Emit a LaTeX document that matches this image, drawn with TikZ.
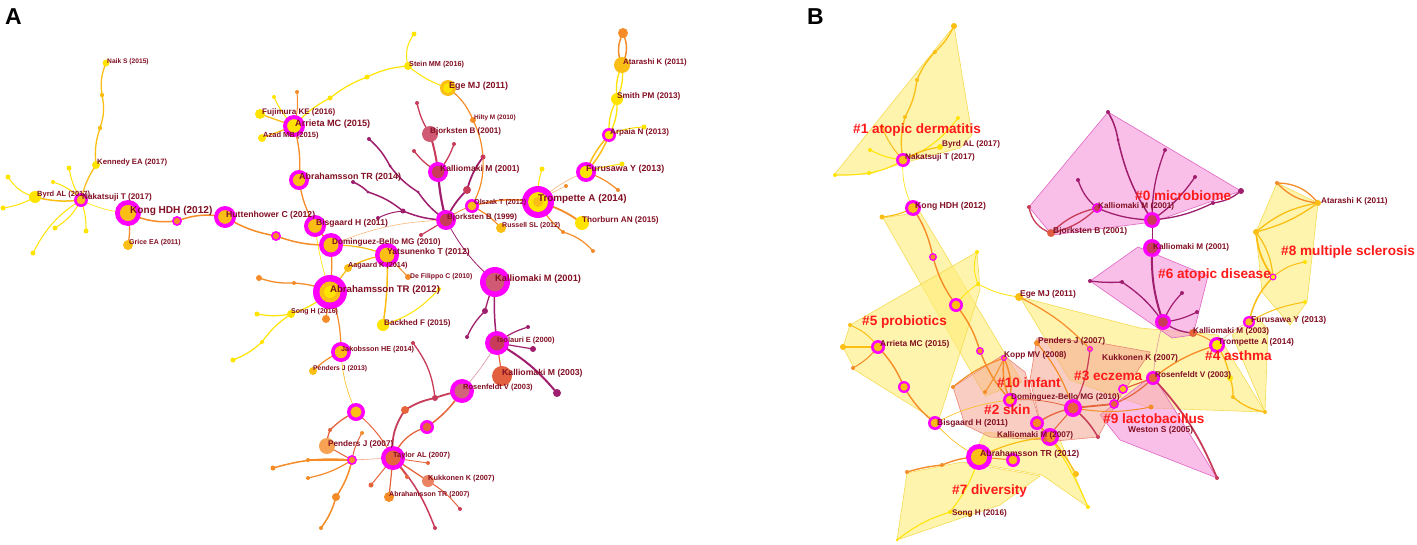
\documentclass[tikz,border=0pt]{standalone}
\usepackage{fontspec}
\setmainfont{Liberation Sans}
\definecolor{lbl}{RGB}{130,15,35}
\definecolor{clr}{RGB}{255,25,25}
\definecolor{mag}{RGB}{255,0,255}
\definecolor{cy}{RGB}{255,228,0}
\definecolor{cg}{RGB}{250,190,20}
\definecolor{co}{RGB}{245,140,40}
\definecolor{cr}{RGB}{230,100,60}
\definecolor{cc}{RGB}{200,60,90}
\definecolor{cp}{RGB}{160,30,110}
\definecolor{pyf}{RGB}{255,238,120}
\definecolor{pyd}{RGB}{245,220,80}
\definecolor{ppf}{RGB}{245,140,215}
\definecolor{ppd}{RGB}{225,100,195}
\definecolor{psf}{RGB}{245,165,145}
\definecolor{psd}{RGB}{235,135,115}
\newcommand\rn[3]{\fill[mag] (#1) circle[radius=#2pt]; \fill[#3] (#1) circle[radius={0.62*#2pt}];}
\newcommand\pn[3]{\fill[#3] (#1) circle[radius=#2pt];}
\tikzset{
  lab/.style={font={\pgfmathsetmacro\myfs{1.17*#1}\bfseries\fontsize{\myfs}{\myfs}\selectfont}, text=lbl, anchor=west, inner sep=0pt},
  clab/.style={font=\bfseries\fontsize{13.6}{13.6}\selectfont, text=clr, anchor=west, inner sep=0pt},
  panel/.style={font=\bfseries\fontsize{23}{23}\selectfont, text=black, anchor=west, inner sep=0pt},
  e/.style={line cap=round},
  ey/.style={e,draw=cy}, eg/.style={e,draw=cg}, eo/.style={e,draw=co},
  er/.style={e,draw=cr}, ec/.style={e,draw=cc}, ep/.style={e,draw=cp},
  eol/.style={e,draw=co!60}, erl/.style={e,draw=cr!60}, ecl/.style={e,draw=cc!55},
  py/.style={fill=pyf, fill opacity=0.6, draw=pyd, line width=0.6pt},
  pp/.style={fill=ppf, fill opacity=0.55, draw=ppd, line width=0.6pt},
  ps/.style={fill=psf, fill opacity=0.55, draw=psd, line width=0.6pt}
}
\begin{document}
\begin{tikzpicture}[x=1pt,y=-1pt]
\useasboundingbox (0,0) rectangle (1417,544);
\fill[white] (0,0) rectangle (1417,544);
%% ================= PANEL A coordinates
\coordinate (naik) at (106,63); \coordinate (a1) at (102,95); \coordinate (a2) at (100,128);
\coordinate (kennedy) at (96,165); \coordinate (naka) at (81,200); \coordinate (byrd) at (35,197);
\coordinate (byrdl1) at (8,177); \coordinate (byrdl2) at (3,208);
\coordinate (nl1) at (53,182); \coordinate (nl2) at (69,168); \coordinate (nl3) at (55,228);
\coordinate (nl4) at (33,253); \coordinate (nl5) at (86,231);
\coordinate (kong) at (128,213); \coordinate (grice) at (128,245); \coordinate (m1) at (177,221);
\coordinate (hutt) at (225,217); \coordinate (m2) at (276,236); \coordinate (bisg) at (315,226);
\coordinate (domb) at (331,245); \coordinate (abr14) at (299,180); \coordinate (arri) at (294,126);
\coordinate (fuji) at (260,114); \coordinate (azad) at (262,138); \coordinate (arl1) at (274,97);
\coordinate (arl2) at (297,92); \coordinate (y1) at (330,98); \coordinate (y2) at (367,77);
\coordinate (stein) at (408,66); \coordinate (steinl) at (414,34); \coordinate (ege) at (448,88);
\coordinate (hilty) at (473,120); \coordinate (h2) at (483,157); \coordinate (olsz) at (472,206);
\coordinate (bj01) at (430,134); \coordinate (bjl1) at (417,103); \coordinate (bjl2) at (454,144);
\coordinate (bjl3) at (414,151); \coordinate (ka01a) at (438,172); \coordinate (bj99) at (446,220);
\coordinate (c1) at (467,190); \coordinate (p1) at (369,139); \coordinate (p2) at (390,166);
\coordinate (p2b) at (418,192); \coordinate (p3) at (403,211); \coordinate (p4) at (353,182);
\coordinate (p5) at (368,192); \coordinate (p6) at (421,235); \coordinate (p7) at (378,218);
\coordinate (trom) at (538,202); \coordinate (furu) at (586,172); \coordinate (arpa) at (609,135);
\coordinate (smith) at (617,99); \coordinate (atar) at (622,65); \coordinate (attop) at (623,33);
\coordinate (thor) at (582,223); \coordinate (russ) at (501,228);
\coordinate (tl1) at (542,169); \coordinate (tl2) at (563,232); \coordinate (tl3) at (593,251);
\coordinate (tl4) at (618,190); \coordinate (tl5) at (622,164); \coordinate (tl6) at (644,127);
\coordinate (tl7) at (566,186);
\coordinate (yats) at (387,255); \coordinate (aag) at (348,268); \coordinate (defil) at (408,277);
\coordinate (ka01b) at (495,282); \coordinate (abr12) at (330,292); \coordinate (song) at (291,314);
\coordinate (sl1) at (257,314); \coordinate (sl2) at (262,342); \coordinate (sl3) at (233,360);
\coordinate (ol1) at (259,278); \coordinate (ol2) at (294,283); \coordinate (ol3) at (326,319);
\coordinate (back) at (383,325); \coordinate (bl) at (439,289);
\coordinate (jak) at (341,352); \coordinate (pen13) at (313,371); \coordinate (m3) at (356,412);
\coordinate (pen07) at (327,446); \coordinate (m4) at (352,460); \coordinate (tay) at (393,458);
\coordinate (kuk) at (428,481); \coordinate (abr07) at (389,497); \coordinate (m5) at (427,427);
\coordinate (ros) at (462,391); \coordinate (iso) at (497,343); \coordinate (ka03) at (502,376);
\coordinate (pnd) at (557,393); \coordinate (il1) at (528,327); \coordinate (il2) at (533,349);
\coordinate (kb1) at (485,311); \coordinate (kb2) at (467,337);
\coordinate (rl1) at (435,398); \coordinate (rl2) at (413,343); \coordinate (rl3) at (405,410);
\coordinate (tla) at (273,468); \coordinate (tlb) at (308,460); \coordinate (tlc) at (308,478);
\coordinate (tld) at (336,497); \coordinate (tle) at (321,528); \coordinate (tlf) at (330,430);
\coordinate (tlg) at (362,433); \coordinate (tlh) at (371,485); \coordinate (tli) at (435,528);
\coordinate (tlj) at (460,509); \coordinate (tlk) at (428,463); \coordinate (tll) at (407,477);
%% ================= PANEL A edges
\draw[eg,line width=1.3pt] (naik) to[bend right=15] (a1) to[bend left=15] (a2) to[bend right=12] (kennedy) to[bend right=10] (naka);
\draw[eg,line width=1.5pt] (naka) to[bend left=10] (byrd);
\draw[ey,line width=1pt] (byrd) to[bend left=20] (byrdl1);
\draw[ey,line width=1pt] (byrd) to[bend left=10] (byrdl2);
\draw[ey,line width=1pt] (naka) to[bend right=15] (nl1);
\draw[ey,line width=1pt] (naka) to[bend left=10] (nl2);
\draw[ey,line width=1pt] (naka) to[bend left=15] (nl3);
\draw[ey,line width=1pt] (naka) to[bend right=15] (nl4);
\draw[ey,line width=1pt] (naka) to[bend left=10] (nl5);
\draw[ey,line width=0.6pt] (naka) to[bend right=10] (kong);
\draw[eo,line width=1.3pt] (kong) to[bend left=10] (grice);
\draw[eo,line width=1.5pt] (kong) to[bend right=15] (m1) to[bend left=15] (hutt) to[bend right=10] (m2) to[bend right=10] (domb);
\draw[eg,line width=1.3pt] (arri) -- (fuji);
\draw[eg,line width=1.3pt] (arri) -- (azad);
\draw[ey,line width=1pt] (arri) to[bend left=10] (arl1);
\draw[eo,line width=1pt] (arri) to[bend right=10] (arl2);
\draw[ey,line width=1.2pt] (arri) to[bend left=10] (y1) to[bend left=8] (y2) to[bend left=10] (stein);
\draw[ey,line width=1pt] (stein) to[bend left=25] (steinl);
\draw[ey,line width=1pt] (stein) to[bend right=10] (ege);
\draw[eo,line width=1.2pt] (ege) to[bend left=15] (hilty) to[bend left=10] (h2) to[bend left=15] (olsz);
\draw[eo,line width=1.3pt] (arri) to[bend left=10] (abr14) to[bend right=10] (bisg);
\draw[eo,line width=1.5pt] (bisg) -- (domb);
\draw[ey,line width=0.6pt] (bisg) to[bend right=5] (abr12);
\draw[eo,line width=1.2pt] (domb) to[bend left=5] (abr12);
\draw[ep,line width=1.5pt] (p4) to[bend left=10] (p5) to[bend left=10] (p3) to[bend right=10] (bj99);
\draw[ep,line width=1.5pt] (p1) to[bend left=10] (p2) to[bend right=10] (p2b) to[bend right=10] (bj99);
\draw[ep,line width=1pt] (p7) to[bend left=10] (p3);
\draw[ec,line width=2pt] (bj01) to[bend left=5] (ka01a);
\draw[ec,line width=1.3pt] (bj01) to[bend left=10] (bjl1);
\draw[ec,line width=1.3pt] (ka01a) to[bend right=10] (bjl2);
\draw[ec,line width=1.3pt] (ka01a) to[bend left=10] (bjl3);
\draw[ep,line width=2.2pt] (ka01a) to[bend right=5] (bj99);
\draw[ep,line width=1.8pt] (bj99) to[bend left=10] (c1) to[bend left=10] (h2);
\draw[eo,line width=0.8pt] (bj99) to[bend left=10] (olsz);
\draw[eo,line width=1.5pt] (olsz) to[bend left=12] (trom);
\draw[eo,line width=1.2pt] (olsz) to[bend left=10] (russ);
\draw[eo,line width=1.8pt] (trom) to[bend left=10] (thor);
\draw[ey,line width=1pt] (trom) to[bend left=10] (tl1);
\draw[eo,line width=1.2pt] (trom) to[bend right=10] (tl2) to[bend left=15] (tl3);
\draw[eol,line width=0.6pt] (trom) to[bend left=5] (tl7);
\draw[eol,line width=0.6pt] (trom) to[bend left=10] (furu);
\draw[eo,line width=1.2pt] (furu) to[bend left=10] (tl4);
\draw[ey,line width=1pt] (furu) to[bend left=5] (tl5);
\draw[eg,line width=1.5pt] (furu) to[bend left=10] (arpa);
\draw[eg,line width=1.5pt] (furu) to[bend right=10] (arpa);
\draw[ey,line width=1pt] (arpa) to[bend left=10] (tl6);
\draw[ey,line width=1.3pt] (arpa) to[bend left=15] (smith);
\draw[ey,line width=1.3pt] (arpa) to[bend right=15] (smith);
\draw[ey,line width=1.3pt] (smith) to[bend left=15] (atar);
\draw[ey,line width=1.3pt] (smith) to[bend right=15] (atar);
\draw[eo,line width=1.5pt] (atar) to[bend left=25] (attop);
\draw[eo,line width=1.5pt] (atar) to[bend right=25] (attop);
\draw[ep,line width=0.8pt] (bj99) to[bend right=10] (ka01b);
\draw[eol,line width=0.6pt] (bj99) to[bend right=10] (domb);
\draw[ec,line width=1.2pt] (bj99) -- (p6);
\draw[eg,line width=1.3pt] (yats) to[bend right=10] (aag);
\draw[eo,line width=1pt] (yats) -- (defil);
\draw[eg,line width=1.2pt] (yats) to[bend right=10] (domb);
\draw[eg,line width=1.3pt] (abr12) -- (aag);
\draw[eg,line width=1.5pt] (yats) to[bend left=5] (back);
\draw[ey,line width=1pt] (back) to[bend right=15] (bl);
\draw[eo,line width=1.3pt] (abr12) to[bend right=10] (ol2) to[bend left=10] (ol1);
\draw[eo,line width=1pt] (abr12) -- (ol3);
\draw[ey,line width=1.3pt] (abr12) to[bend left=10] (song);
\draw[ey,line width=1.2pt] (song) to[bend left=10] (sl1);
\draw[ey,line width=1.2pt] (song) to[bend right=10] (sl2) to[bend left=10] (sl3);
\draw[eo,line width=1.2pt] (abr12) to[bend left=10] (jak);
\draw[eo,line width=1.2pt] (jak) to[bend right=10] (pen13);
\draw[eg,line width=0.6pt] (jak) to[bend right=10] (m3);
\draw[er,line width=1.3pt] (m3) to[bend right=10] (tlf) to[bend right=10] (pen07);
\draw[er,line width=1pt] (m3) to[bend left=10] (tay);
\draw[eo,line width=1.5pt] (m4) to[bend right=10] (tla);
\draw[eo,line width=1.2pt] (m4) -- (tlb);
\draw[eo,line width=1.2pt] (m4) to[bend left=10] (tlc);
\draw[eo,line width=1.5pt] (m4) to[bend left=10] (tld) to[bend left=10] (tle);
\draw[er,line width=1pt] (pen07) -- (m4);
\draw[erl,line width=0.6pt] (m4) -- (tay);
\draw[er,line width=1pt] (m4) to[bend left=10] (tlg);
\draw[er,line width=1.3pt] (tay) to[bend left=25] (m5);
\draw[er,line width=1.5pt] (m5) to[bend right=10] (ros);
\draw[er,line width=1.3pt] (tay) -- (kuk);
\draw[er,line width=1.2pt] (tay) -- (abr07);
\draw[er,line width=1pt] (tay) -- (tlh);
\draw[ec,line width=1.5pt] (tay) to[bend left=10] (tli);
\draw[er,line width=1pt] (kuk) to[bend left=10] (tlj);
\draw[er,line width=0.8pt] (tay) -- (tlk);
\draw[er,line width=0.8pt] (tay) -- (tll);
\draw[ec,line width=1.8pt] (tay) to[bend left=20] (rl3) to[bend left=10] (rl1) to[bend left=5] (ros);
\draw[ec,line width=1.3pt] (rl1) to[bend right=15] (rl2);
\draw[ecl,line width=0.6pt] (ros) to[bend right=5] (iso);
\draw[ep,line width=1.5pt] (iso) to[bend left=5] (ka01b);
\draw[er,line width=1.2pt] (iso) -- (ka03);
\draw[ep,line width=1.2pt] (iso) to[bend left=10] (il1);
\draw[ep,line width=1.2pt] (iso) -- (il2);
\draw[ep,line width=2pt] (iso) to[bend left=10] (pnd);
\draw[ep,line width=1.3pt] (ka01b) to[bend right=5] (kb1) to[bend right=10] (kb2);
%% ================= PANEL A nodes
\pn{naik}{3.5}{cy} \pn{a1}{2.2}{cg} \pn{a2}{2.2}{cg} \pn{kennedy}{4}{cy}
\pn{byrd}{6}{cy} \pn{byrdl1}{2.5}{cy} \pn{byrdl2}{2.5}{cy}
\pn{nl1}{2}{cy} \pn{nl2}{2.5}{cy} \pn{nl3}{2.5}{cy} \pn{nl4}{2.5}{cy} \pn{nl5}{2.5}{cy}
\rn{naka}{7}{cg}
\rn{kong}{13}{cg} \pn{grice}{5}{cg} \rn{m1}{5}{co} \rn{hutt}{11}{cg} \rn{m2}{5}{co}
\rn{bisg}{11}{cg} \rn{domb}{12}{cg} \rn{abr14}{10}{cg} \rn{arri}{11}{cy}
\pn{fuji}{5}{cy} \pn{azad}{4}{cy} \pn{arl1}{2}{cy} \pn{arl2}{2}{co}
\pn{y1}{2.5}{cy} \pn{y2}{2.5}{cy} \pn{stein}{4}{cy} \pn{steinl}{2.5}{cy}
\pn{ege}{8}{cg} \fill[cy] (ege) circle[radius=5pt];
\pn{hilty}{3}{co} \pn{h2}{2.5}{cc}
\pn{bj01}{8}{cc!85!white} \pn{bjl1}{2}{cc} \pn{bjl2}{2}{cc} \pn{bjl3}{2}{cc}
\rn{ka01a}{10}{cc} \rn{bj99}{10}{cc} \pn{c1}{4}{cc}
\pn{p1}{2}{cp} \pn{p2}{1.5}{cp} \pn{p2b}{1.5}{cp} \pn{p3}{2.5}{cp} \pn{p4}{2}{cp} \pn{p5}{1.5}{cp} \pn{p6}{2}{cc} \pn{p7}{2}{cp}
\rn{olsz}{7}{cg} \rn{trom}{16}{cy} \fill[cg] (trom) circle[radius=5pt];
\rn{furu}{10}{cy} \rn{arpa}{7}{cy} \pn{smith}{6}{cy} \pn{atar}{8}{cg} \pn{attop}{5}{co}
\pn{thor}{7}{cy} \pn{russ}{5}{cg}
\pn{tl1}{2.5}{cy} \pn{tl2}{2}{co} \pn{tl3}{2}{co} \pn{tl4}{2}{co} \pn{tl5}{2.5}{cy} \pn{tl6}{2.5}{cy} \pn{tl7}{2}{co}
\rn{yats}{12}{cg} \pn{aag}{4}{cg} \pn{defil}{3}{co}
\rn{ka01b}{15}{cc!85!white}
\rn{abr12}{17}{cg} \fill[cy] (abr12) circle[radius=6pt];
\pn{song}{4}{cy} \pn{sl1}{2.5}{cy} \pn{sl2}{2}{cy} \pn{sl3}{2.5}{cy}
\pn{ol1}{3}{co} \pn{ol2}{2}{co} \pn{ol3}{4}{co}
\pn{back}{6}{cy} \pn{bl}{2}{cy}
\rn{jak}{10}{cg} \pn{pen13}{4}{cg} \rn{m3}{9}{cg}
\pn{pen07}{8}{co!80!white} \rn{m4}{5}{co} \rn{tay}{12}{cr}
\pn{kuk}{6}{cr!80!white} \pn{abr07}{5}{co} \rn{m5}{7}{cr}
\rn{ros}{12}{cc!80!white} \rn{iso}{12}{cc} \pn{ka03}{10}{cr!90!cc}
\pn{pnd}{4}{cp} \pn{il1}{2}{cp} \pn{il2}{3}{cp} \pn{kb1}{3}{cp} \pn{kb2}{2}{cp}
\pn{rl1}{3}{cc} \pn{rl2}{2}{cc} \pn{rl3}{4}{cr}
\pn{tla}{2.5}{co} \pn{tlb}{2}{co} \pn{tlc}{2}{co} \pn{tld}{4}{co} \pn{tle}{2}{co}
\pn{tlf}{2}{cr} \pn{tlg}{2}{co} \pn{tlh}{2.5}{cr} \pn{tli}{2}{cc} \pn{tlj}{2}{cc} \pn{tlk}{2}{cr} \pn{tll}{2}{cr}
%% ================= PANEL A labels
\node[panel] (pA) at (5,17) {A};
\node[lab=5.7] (lnaik) at (107,62) {Naik S (2015)};
\node[lab=6.6] (lken) at (97,163) {Kennedy EA (2017)};
\node[lab=7] (lnaka) at (82,197) {Nakatsuji T (2017)};
\node[lab=6.4] (lbyrd) at (37,195) {Byrd AL (2017)};
\node[lab=8.6] (lkong) at (130,211) {Kong HDH (2012)};
\node[lab=6] (lgrice) at (129,243) {Grice EA (2011)};
\node[lab=7.4] (lhutt) at (226,215) {Huttenhower C (2012)};
\node[lab=7.3] (lbisg) at (316,223) {Bisgaard H (2011)};
\node[lab=7] (ldomb) at (332,242) {Dominguez-Bello MG (2010)};
\node[lab=7.3] (lyats) at (387,252) {Yatsunenko T (2012)};
\node[lab=6.2] (laag) at (348,266) {Aagaard K (2014)};
\node[lab=5.9] (ldefil) at (410,277) {De Filippo C (2010)};
\node[lab=8.2] (labr12) at (330,290) {Abrahamsson TR (2012)};
\node[lab=6] (lsong) at (291,312) {Song H (2016)};
\node[lab=6.9] (lback) at (384,323) {Backhed F (2015)};
\node[lab=6.2] (ljak) at (341,350) {Jakobsson HE (2014)};
\node[lab=5.8] (lpen13) at (313,369) {Penders J (2013)};
\node[lab=7] (lpen07) at (328,444) {Penders J (2007)};
\node[lab=6.3] (ltay) at (393,456) {Taylor AL (2007)};
\node[lab=6.3] (lkuk) at (428,479) {Kukkonen K (2007)};
\node[lab=6] (labr07) at (389,495) {Abrahamsson TR (2007)};
\node[lab=6.4] (lros) at (463,388) {Rosenfeldt V (2003)};
\node[lab=6.4] (liso) at (497,341) {Isolauri E (2000)};
\node[lab=7.4] (lka03) at (502,373) {Kalliomaki M (2003)};
\node[lab=7.9] (lka01b) at (495,279) {Kalliomaki M (2001)};
\node[lab=6.8] (lbj99) at (447,217) {Bjorksten B (1999)};
\node[lab=6.1] (lolsz) at (474,203) {Olszak T (2012)};
\node[lab=6] (lruss) at (502,226) {Russell SL (2012)};
\node[lab=7.3] (lka01a) at (440,169) {Kalliomaki M (2001)};
\node[lab=6.9] (lbj01) at (430,131) {Bjorksten B (2001)};
\node[lab=5.5] (lhilty) at (474,118) {Hilty M (2010)};
\node[lab=7.6] (lege) at (449,86) {Ege MJ (2011)};
\node[lab=6.2] (lstein) at (409,65) {Stein MM (2016)};
\node[lab=6.9] (lfuji) at (262,112) {Fujimura KE (2016)};
\node[lab=7.8] (larri) at (295,124) {Arrieta MC (2015)};
\node[lab=6.4] (lazad) at (263,136) {Azad MB (2015)};
\node[lab=7.6] (labr14) at (299,177) {Abrahamsson TR (2014)};
\node[lab=8.4] (ltrom) at (538,199) {Trompette A (2014)};
\node[lab=7] (lthor) at (582,220) {Thorburn AN (2015)};
\node[lab=7.6] (lfuru) at (586,169) {Furusawa Y (2013)};
\node[lab=6.9] (larpa) at (610,132) {Arpaia N (2013)};
\node[lab=7] (lsmith) at (617,96) {Smith PM (2013)};
\node[lab=6.7] (latar) at (623,62) {Atarashi K (2011)};
%% ================= PANEL B coordinates
\coordinate (bnaka) at (903,160); \coordinate (bbyrd) at (940,147);
\coordinate (b1a) at (905,117); \coordinate (b1b) at (917,80); \coordinate (b1c) at (935,52); \coordinate (b1top) at (954,26);
\coordinate (b1l1) at (958,118); \coordinate (b1l2) at (870,150); \coordinate (b1l3) at (869,173);
\coordinate (b1l4) at (835,175); \coordinate (b1l5) at (882,127);
\coordinate (bkong) at (913,208); \coordinate (bkl) at (882,217);
\coordinate (bm1) at (933,257); \coordinate (bm2) at (956,305); \coordinate (bm3) at (980,351);
\coordinate (barri) at (878,347); \coordinate (bal1) at (843,347); \coordinate (bal2) at (853,368); \coordinate (bal3) at (850,325);
\coordinate (bm4) at (904,387); \coordinate (bbisg) at (935,423);
\coordinate (bkopp) at (1004,358); \coordinate (bpen) at (1037,343);
\coordinate (bdomb) at (1010,400); \coordinate (bm5) at (1037,423); \coordinate (bka07) at (1050,437);
\coordinate (babr) at (979,457); \coordinate (bm6) at (1013,460);
\coordinate (bege) at (1019,297); \coordinate (bew) at (978,284); \coordinate (bew2) at (977,252);
\coordinate (bkuk) at (1090,349); \coordinate (bm7) at (1073,408); \coordinate (bm8) at (1123,389);
\coordinate (bm9) at (1114,404); \coordinate (bros) at (1153,378); \coordinate (bm10) at (1163,322);
\coordinate (bka03) at (1193,333); \coordinate (btrom) at (1217,345); \coordinate (bfur) at (1249,322);
\coordinate (batar) at (1318,203); \coordinate (b8a) at (1277,183); \coordinate (b8b) at (1256,232);
\coordinate (b8c) at (1273,277); \coordinate (b8d) at (1305,262); \coordinate (b8e) at (1305,302);
\coordinate (bka01) at (1097,208); \coordinate (bbj01) at (1051,233); \coordinate (bka01c) at (1152,220);
\coordinate (bka01d) at (1152,248);
\coordinate (b0a) at (1118,140); \coordinate (b0top) at (1108,112); \coordinate (b0b) at (1165,150);
\coordinate (b0c) at (1195,177); \coordinate (b0d) at (1241,191); \coordinate (b0e) at (1213,203);
\coordinate (b0f) at (1078,180); \coordinate (b0g) at (1029,207);
\coordinate (b6a) at (1197,312); \coordinate (b6b) at (1182,293); \coordinate (b6c) at (1122,282); \coordinate (b6d) at (1090,281);
\coordinate (bsm) at (1151,407); \coordinate (bys) at (1076,474);
\coordinate (b7a) at (907,472); \coordinate (b7b) at (942,465); \coordinate (b7c) at (897,540);
\coordinate (b7d) at (970,515); \coordinate (bsong) at (950,512); \coordinate (b2end) at (1088,507);
\coordinate (b4a) at (1233,397); \coordinate (b4b) at (1265,412); \coordinate (b4c) at (1230,378);
\coordinate (b9end) at (1217,478); \coordinate (b10a) at (953,387); \coordinate (b10b) at (985,392);
\coordinate (b3a) at (1045,440); \coordinate (b3b) at (1098,437);
%% ================= PANEL B cluster hulls
\draw[py] (954,26) -- (972,135) -- (960,148) -- (903,163) -- (870,174) -- (834,175) -- cycle;
\draw[py] (883,218) -- (920,212) -- (1022,382) -- (985,396) -- cycle;
\draw[py] (977,252) -- (980,290) -- (938,422) -- (855,370) -- (843,347) -- (850,325) -- cycle;
\draw[py] (1020,297) -- (1140,328) -- (1218,335) -- (1265,412) -- (1150,408) -- (1070,380) -- cycle;
\draw[py] (1277,183) -- (1318,203) -- (1307,302) -- (1290,325) -- (1262,292) -- (1256,232) -- cycle;
\draw[py] (1232,335) -- (1258,318) -- (1268,330) -- (1265,412) -- cycle;
\draw[py] (907,473) -- (962,462) -- (1040,476) -- (1000,505) -- (970,515) -- (897,540) -- cycle;
\draw[py] (985,432) -- (1060,440) -- (1088,507) -- (1042,475) -- (970,462) -- cycle;
\draw[pp] (1108,112) -- (1241,191) -- (1153,222) -- (1052,235) -- (1029,207) -- cycle;
\draw[pp] (1090,281) -- (1138,247) -- (1208,276) -- (1193,335) -- (1172,338) -- cycle;
\draw[pp] (1100,415) -- (1153,375) -- (1217,478) -- (1120,440) -- cycle;
\draw[ps] (1037,338) -- (1095,342) -- (1150,352) -- (1118,400) -- (1098,437) -- (1045,442) -- (1030,380) -- cycle;
\draw[ps] (953,387) -- (1003,355) -- (1025,372) -- (1045,440) -- (990,437) -- (965,425) -- cycle;
%% ================= PANEL B edges
\draw[eg,line width=1.3pt] (bnaka) to[bend left=12] (b1a) to[bend right=10] (b1b) to[bend left=10] (b1c) to[bend right=10] (b1top);
\draw[ey,line width=1pt] (bnaka) to[bend right=15] (b1l1);
\draw[ey,line width=1pt] (bnaka) to[bend left=10] (b1l2);
\draw[ey,line width=1pt] (bnaka) to[bend left=10] (b1l3) to[bend left=5] (b1l4);
\draw[eg,line width=1pt] (bnaka) to[bend left=10] (b1l5);
\draw[eg,line width=1.3pt] (bnaka) to[bend left=10] (bbyrd);
\draw[ey,line width=0.6pt] (bnaka) to[bend right=15] (bkong);
\draw[eg,line width=1.2pt] (bkong) to[bend left=10] (bkl);
\draw[eo,line width=1.4pt] (bkong) to[bend left=10] (bm1) to[bend right=10] (bm2) to[bend left=10] (bm3) to[bend right=10] (bdomb);
\draw[eg,line width=1.2pt] (barri) -- (bal1);
\draw[eo,line width=1pt] (barri) to[bend left=10] (bal2);
\draw[eg,line width=1pt] (barri) to[bend right=15] (bal3);
\draw[eo,line width=1.4pt] (barri) to[bend left=10] (bm4) to[bend right=10] (bbisg);
\draw[eg,line width=0.6pt] (bbisg) to[bend right=10] (babr);
\draw[eg,line width=0.6pt] (bbisg) to[bend left=10] (bdomb);
\draw[ey,line width=0.8pt] (bm2) to[bend left=10] (bew) to[bend left=20] (bew2);
\draw[ey,line width=0.8pt] (bew) to[bend right=10] (bege);
\draw[eo,line width=1.2pt] (bege) to[bend left=10] (bkuk);
\draw[eo,line width=1.4pt] (babr) to[bend right=10] (b7b) to[bend right=5] (b7a);
\draw[eo,line width=1pt] (babr) -- (bm6);
\draw[ey,line width=1pt] (b7c) to[bend left=10] (bsong) to[bend left=10] (b7d);
\draw[ey,line width=1pt] (babr) to[bend left=10] (bsong);
\draw[eg,line width=1.2pt] (babr) to[bend left=10] (bka07);
\draw[eo,line width=1.3pt] (bka07) -- (bm5);
\draw[er,line width=1.3pt] (bm5) to[bend left=10] (bm7);
\draw[er,line width=0.8pt] (bm7) to[bend right=10] (bdomb);
\draw[er,line width=1.8pt] (bm7) -- (bm9);
\draw[er,line width=1.2pt] (bm9) to[bend right=10] (bros);
\draw[er,line width=1.2pt] (bm8) -- (bros);
\draw[er,line width=1pt] (bm7) -- (b3a);
\draw[ec,line width=1.5pt] (bm7) to[bend left=10] (b3b);
\draw[eo,line width=1.5pt] (bkopp) to[bend left=15] (bdomb);
\draw[eo,line width=1.5pt] (bkopp) to[bend right=15] (bdomb);
\draw[eo,line width=1.2pt] (bkopp) to[bend right=10] (b10a);
\draw[eo,line width=1pt] (bkopp) to[bend left=5] (b10b);
\draw[eo,line width=1.2pt] (bpen) to[bend left=10] (bm7);
\draw[ec,line width=1.2pt] (bkuk) to[bend left=10] (bm7);
\draw[eo,line width=1pt] (bm7) to[bend right=10] (bsm);
\draw[ec,line width=1.8pt] (bros) to[bend left=10] (b9end);
\draw[eg,line width=1.2pt] (bka07) to[bend left=5] (bys);
\draw[ey,line width=1pt] (bka07) to[bend left=5] (b2end);
\draw[ecl,line width=0.6pt] (bros) to[bend left=5] (bm10);
\draw[ep,line width=2pt] (bm10) to[bend left=10] (bka01d);
\draw[ep,line width=1.2pt] (bm10) to[bend right=10] (b6a);
\draw[ep,line width=1.2pt] (bm10) to[bend left=10] (b6b);
\draw[ep,line width=1.3pt] (bm10) to[bend right=10] (b6c) to[bend left=5] (b6d);
\draw[ep,line width=1.3pt] (bm10) to[bend right=15] (bka03);
\draw[ep,line width=0.8pt] (bka01d) -- (bka01c);
\draw[ep,line width=1.5pt] (bka01c) to[bend left=10] (b0a) to[bend right=10] (b0top);
\draw[ep,line width=1.3pt] (bka01c) to[bend left=10] (b0b);
\draw[ep,line width=1.3pt] (bka01c) to[bend right=10] (b0c);
\draw[ep,line width=1.3pt] (bka01c) to[bend right=10] (b0e) to[bend right=15] (b0d);
\draw[ep,line width=1.3pt] (bka01c) to[bend left=10] (bka01);
\draw[ec,line width=1.3pt] (bka01) to[bend left=15] (bbj01);
\draw[ec,line width=1.3pt] (bka01) to[bend right=15] (bbj01);
\draw[ep,line width=1.3pt] (bka01) to[bend left=15] (b0f);
\draw[ec,line width=1.3pt] (bbj01) to[bend left=30] (b0g);
\draw[eo,line width=1pt] (btrom) to[bend right=10] (bka03);
\draw[eol,line width=0.6pt] (btrom) to[bend left=10] (bfur);
\draw[eo,line width=1.3pt] (btrom) to[bend right=10] (bros);
\draw[eg,line width=1.3pt] (btrom) to[bend left=10] (b4c) to[bend left=10] (b4a) to[bend right=15] (b4b);
\draw[eg,line width=1.5pt] (bfur) to[bend left=15] (b8c);
\draw[eg,line width=1.8pt] (b8c) to[bend left=15] (b8b);
\draw[eg,line width=1.2pt] (b8c) to[bend right=15] (b8b);
\draw[eg,line width=1.3pt] (b8b) to[bend left=15] (batar);
\draw[eg,line width=1.3pt] (b8b) to[bend right=10] (batar);
\draw[eo,line width=1.3pt] (b8a) to[bend left=25] (batar);
\draw[eo,line width=1.3pt] (b8a) to[bend right=20] (batar);
\draw[eg,line width=1pt] (b8c) to[bend left=15] (b8d);
\draw[eg,line width=1pt] (bfur) to[bend left=10] (b8e);
%% ================= PANEL B nodes
\pn{b1a}{2}{cg} \pn{b1b}{2}{cg} \pn{b1c}{2}{cg} \pn{b1top}{3}{cg}
\pn{b1l1}{2}{cy} \pn{b1l2}{2}{cy} \pn{b1l3}{2}{cy} \pn{b1l4}{2}{cy} \pn{b1l5}{2}{cg}
\pn{bbyrd}{3}{cy} \rn{bnaka}{7}{cg}
\rn{bkong}{8}{cg} \pn{bkl}{2.5}{cg}
\rn{bm1}{4}{co} \rn{bm2}{7}{cg} \rn{bm3}{4}{co}
\rn{barri}{7}{cg} \pn{bal1}{3}{cg} \pn{bal2}{2}{co} \pn{bal3}{2}{cg}
\rn{bm4}{6}{cg} \rn{bbisg}{7}{cg}
\rn{bkopp}{3}{co} \pn{bpen}{3}{co}
\rn{bdomb}{7}{cg} \rn{bm5}{7}{co} \rn{bka07}{9}{co} \rn{babr}{13}{cg} \rn{bm6}{7}{cg}
\pn{bege}{4}{cg} \pn{bew}{2}{cy} \pn{bew2}{2}{cy}
\rn{bkuk}{3}{co} \rn{bm7}{9}{cr} \rn{bm8}{5}{cg} \rn{bm9}{5}{cr} \rn{bros}{7}{cr}
\rn{bm10}{8}{cc} \pn{bka03}{4}{cr} \rn{btrom}{8}{cy} \rn{bfur}{6}{cg}
\pn{batar}{3}{cg} \pn{b8a}{2}{co} \pn{b8b}{3}{cg} \rn{b8c}{3.5}{cy} \pn{b8d}{2}{cy} \pn{b8e}{2}{cy}
\rn{bka01}{5}{cc} \pn{bbj01}{4}{cr!80!cc} \rn{bka01c}{8}{cc} \rn{bka01d}{9}{cc}
\pn{b0a}{1.5}{cp} \pn{b0top}{2}{cp} \pn{b0b}{2}{cp} \pn{b0c}{2}{cp} \pn{b0d}{3}{cp} \pn{b0e}{2}{cp} \pn{b0f}{2}{cp} \pn{b0g}{2}{cc}
\pn{b6a}{2}{cp} \pn{b6b}{2}{cp} \pn{b6c}{2}{cp} \pn{b6d}{2}{cp}
\pn{bsm}{2.5}{co} \pn{bys}{3}{cg}
\pn{b7a}{2}{co} \pn{b7b}{2}{co} \pn{b7c}{1.5}{cy} \pn{b7d}{2}{cy} \pn{bsong}{2}{cy} \pn{b2end}{2}{cy}
\pn{b4a}{2}{cg} \pn{b4b}{2}{cg} \pn{b4c}{3}{cy} \pn{b9end}{2}{cc}
\pn{b10a}{2}{co} \pn{b10b}{2}{co} \pn{b3a}{2}{cr} \pn{b3b}{2}{cc}
%% ================= PANEL B labels
\node[panel] (pB) at (807,17) {B};
\node[clab] (c1l) at (853,130) {\#1 atopic dermatitis};
\node[lab=7] (lbbyrd) at (942,144) {Byrd AL (2017)};
\node[lab=7] (lbnaka) at (905,157) {Nakatsuji T (2017)};
\node[lab=7.4] (lbkong) at (915,206) {Kong HDH (2012)};
\node[clab] (c0l) at (1135,196) {\#0 microbiome};
\node[lab=7] (lbka01) at (1098,206) {Kalliomaki M (2001)};
\node[lab=7.2] (lbbj01) at (1053,231) {Bjorksten B (2001)};
\node[lab=7] (lbka01d) at (1153,247) {Kalliomaki M (2001)};
\node[lab=7] (lbatar) at (1321,201) {Atarashi K (2011)};
\node[clab] (c8l) at (1281,252) {\#8 multiple sclerosis};
\node[clab] (c6l) at (1158,275) {\#6 atopic disease};
\node[lab=7.3] (lbfur) at (1251,320) {Furusawa Y (2013)};
\node[lab=7] (lbka03) at (1193,331) {Kalliomaki M (2003)};
\node[lab=7.2] (lbtrom) at (1218,342) {Trompette A (2014)};
\node[clab] (c4l) at (1205,356) {\#4 asthma};
\node[lab=7] (lbros) at (1155,375) {Rosenfeldt V (2003)};
\node[lab=7.2] (lbkuk) at (1102,358) {Kukkonen K (2007)};
\node[clab] (c3l) at (1074,376) {\#3 eczema};
\node[lab=7] (lbdomb) at (1011,397) {Dominguez-Bello MG (2010)};
\node[clab] (c9l) at (1103,419) {\#9 lactobacillus};
\node[lab=7.2] (lbwes) at (1128,430) {Weston S (2005)};
\node[lab=7.2] (lbpen) at (1038,341) {Penders J (2007)};
\node[lab=7.1] (lbkopp) at (1004,355) {Kopp MV (2008)};
\node[clab] (c10l) at (997,383) {\#10 infant};
\node[clab] (c2l) at (984,410) {\#2 skin};
\node[lab=7] (lbka07) at (997,435) {Kalliomaki M (2007)};
\node[lab=7.4] (lbabr) at (980,454) {Abrahamsson TR (2012)};
\node[clab] (c7l) at (952,491) {\#7 diversity};
\node[lab=7] (lbsong) at (952,513) {Song H (2016)};
\node[lab=7.2] (lbbisg) at (937,423) {Bisgaard H (2011)};
\node[lab=7.2] (lbarri) at (880,344) {Arrieta MC (2015)};
\node[clab] (c5l) at (862,322) {\#5 probiotics};
\node[lab=7.2] (lbege) at (1020,294) {Ege MJ (2011)};
\end{tikzpicture}
\end{document}
